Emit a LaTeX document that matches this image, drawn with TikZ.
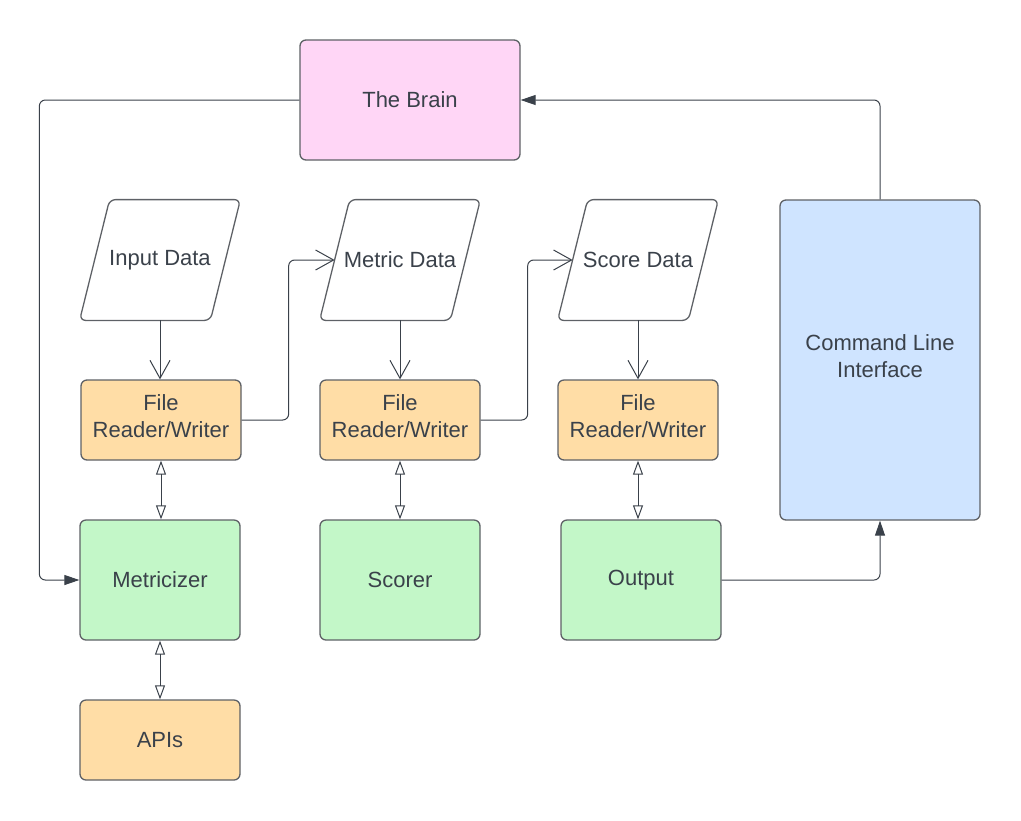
\documentclass[tikz,border=0pt]{standalone}
\usepackage{fontspec}
\setmainfont{Liberation Sans}
\usetikzlibrary{arrows.meta}
\definecolor{ink}{HTML}{3A414A}
\definecolor{rim}{HTML}{5E6166}
\definecolor{brainpink}{HTML}{FFD6F6}
\definecolor{rworange}{HTML}{FFDDA6}
\definecolor{stepgreen}{HTML}{C3F7C8}
\definecolor{cliblue}{HTML}{CFE4FF}
\begin{document}
\begin{tikzpicture}[x=0.5pt, y=-0.5pt,
    every node/.style={font=\fontsize{11}{13.5}\selectfont, text=ink},
    box/.style={draw=rim, line width=0.65pt, rounded corners=3pt,
      minimum width=80pt, minimum height=60pt, align=center, inner sep=0pt},
    rwbox/.style={box, fill=rworange, minimum height=40pt},
    databox/.style={minimum width=80pt, minimum height=60pt, inner sep=0pt},
    dataedge/.style={draw=rim, line width=0.65pt, rounded corners=3pt},
    wire/.style={draw=ink, line width=0.5pt, rounded corners=3pt},
    feed/.style={wire, -{Straight Barb[length=9pt, width=10pt]}},
    link/.style={wire, {Triangle[open, length=7pt, width=5pt]}-{Triangle[open, length=7pt, width=5pt]}},
    back/.style={wire, -{Triangle[length=7.5pt, width=5pt]}}]
    \useasboundingbox (0,0) rectangle (1021,820);

    \node[box, fill=brainpink, minimum width=110pt] (brain) at (410,100) {The Brain};
    \node[box, fill=cliblue, minimum width=100pt, minimum height=160pt] (cli) at (880,360) {Command Line\\Interface\strut};

    \node[databox] (input) at (160,260) {Input Data};
    \node[databox] (metric) at (400,260) {Metric Data};
    \node[databox] (score) at (638,260) {Score Data};
    % slanted outlines of the data nodes
    \foreach \n in {input,metric,score}
      \draw[dataedge] ([xshift=15pt]\n.north west) -- (\n.north east)
        -- ([xshift=-15pt]\n.south east) -- (\n.south west) -- cycle;

    \node[rwbox] (rw1) at (161,420) {File\\Reader/Writer\strut};
    \node[rwbox] (rw2) at (400,420) {File\\Reader/Writer\strut};
    \node[rwbox] (rw3) at (638,420) {File\\Reader/Writer\strut};

    \node[box, fill=stepgreen] (metr) at (160,580) {Metricizer};
    \node[box, fill=stepgreen] (scorer) at (400,580) {Scorer};
    \node[box, fill=stepgreen] (output) at (641,580) {Output};

    \node[rwbox] (apis) at (160,740) {APIs};

    \draw[feed] (input.south) -- (rw1.north -| input.south);
    \draw[feed] (metric.south) -- (rw2.north);
    \draw[feed] (score.south) -- (rw3.north);
    \draw[feed] (rw1.east) -- ++(47,0) |- ([xshift=7.5pt]metric.west);
    \draw[feed] (rw2.east) -- ++(47,0) |- ([xshift=7.5pt]score.west);

    \draw[link] (rw1.south) -- (rw1.south |- metr.north);
    \draw[link] (rw2.south) -- (scorer.north);
    \draw[link] (rw3.south) -- (rw3.south |- output.north);
    \draw[link] (metr.south) -- (apis.north);

    \draw[back] (brain.west) -- ++(-260,0) |- (metr.west);
    \draw[back] (cli.north) |- (brain.east);
    \draw[back] (output.east) -| (cli.south);
\end{tikzpicture}
\end{document}
